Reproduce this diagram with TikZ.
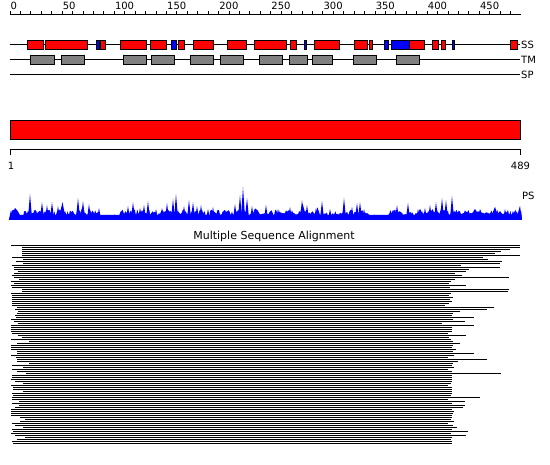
\documentclass[tikz,border=0pt]{standalone}
\usepackage{fontspec}
\setmainfont{DejaVu Sans}
\usepackage{tikz}
\usetikzlibrary{positioning}
\definecolor{ssred}{rgb}{1, 0, 0}
\definecolor{ssblue}{rgb}{0, 0, 1}
\definecolor{tmgray}{rgb}{0.5, 0.5, 0.5}
\definecolor{psblue}{rgb}{0, 0, 1}

\tikzset{
    track/.style={line width=1pt},
    helix/.style={fill=ssred, draw=black, line width=1pt},
    strand/.style={fill=ssblue, draw=black, line width=1pt},
    tmbox/.style={fill=tmgray, draw=black, line width=1pt},
    lbl/.style={font=\fontsize{10}{12}\selectfont, inner sep=0pt},
    msaline/.style={line width=1pt},
}

\begin{document}
\begin{tikzpicture}[x=1pt, y=-1pt]
    \useasboundingbox[fill=white] (0,0) rectangle (550,465);

    \draw[track] (10,15) -- (521,15);
    \foreach \p in {0,10,...,480}
        \draw[track] ({10+1.043*\p},15) -- ({10+1.043*\p},11.5);
    \foreach \p in {0,50,...,450}
        \node[lbl, anchor=base west] (tick\p) at ({10.5+1.043*\p},9.5) {\p};

    \coordinate (ss) at (520,45);
    \coordinate (tm) at (520,60);
    \coordinate (sp) at (520,75);
    \draw[track] (10,45) -- (ss);
    \draw[track] (10,60) -- (tm);
    \draw[track] (10,75) -- (sp);
    \node[lbl, right=1pt of ss] (sslbl) {SS};
    \node[lbl, right=1pt of tm] (tmlbl) {TM};
    \node[lbl, right=1pt of sp] (splbl) {SP};

    \foreach \a/\b in {27/43, 45/87, 100/105, 120/146, 150/166, 178/184, 193/213, 227/246,
                       254/286, 290/296, 314/339, 354/367, 369/372, 409/424, 432/438, 441/445, 510/517}
        \draw[helix] (\a,40.5) rectangle (\b,50);
    \foreach \a/\b in {96/99, 171/176, 304/306, 384/388, 391/409, 452/454}
        \draw[strand] (\a,40.5) rectangle (\b,50);
    \foreach \a/\b in {30/54, 61/84, 123/146, 151/174, 190/213, 220/243, 259/282,
                       289/307, 312/332, 353/376, 396/419}
        \draw[tmbox] (\a,55.5) rectangle (\b,65);

    \draw[helix] (10,120.5) rectangle (520,140);
    \coordinate (rstart) at (10,150);
    \coordinate (rend) at (520,150);
    \draw[track] ([yshift=-5pt]rstart) -- (rstart) -- (rend) -- ([yshift=-5pt]rend);
    \node[lbl] (first) at (11,165.5) {1};
    \node[lbl] (last) at (520.5,165.5) {489};

    \pgfmathsetseed{7}
    \fill[psblue] (10,220) \foreach \i [evaluate=\i as \x using 10+1.2*\i] in {0,...,426} {
        -- (\x,{216.5-ifthenelse(or(and(\x>98,\x<120),and(\x>368,\x<388)),2,7)*rnd})
    } -- (522,220) -- cycle;
    \pgfmathsetseed{11}
    \fill[psblue] (10,220) \foreach \i [evaluate=\i as \x using 10+2.5*\i] in {0,...,204} {
        -- (\x,{215-ifthenelse(or(and(\x>98,\x<120),and(\x>368,\x<388)),0,14)*rnd*rnd*rnd})
    } -- (522,220) -- cycle;
    \foreach \x/\y in {11/210, 30/194, 42/202, 47/205, 52/202, 58/206, 78/198, 83/201, 89/204,
                       99/208, 122/210, 128/206, 133/202, 140/208, 144/205, 148/201, 156/209,
                       162/208, 167/203, 173/199, 176/194, 184/206, 189/200, 193/202, 197/206,
                       201/205, 208/209, 213/207, 226/210, 235/204, 240/195, 243/187, 247/198,
                       252/206, 266/205, 277/209, 290/207, 302/200, 307/205, 316/208, 322/201,
                       330/209, 344/198, 352/207, 357/203, 360/202, 364/209, 397/205, 408/203,
                       418/209, 425/208, 430/205, 436/202, 442/198, 446/200, 452/196, 465/210,
                       480/209, 494/211, 505/209, 518/212}
        \fill[psblue] ({\x-2.2},220) -- (\x,\y) -- ({\x+2.2},220) -- cycle;
    \coordinate (psend) at (522,196);
    \node[lbl, right=0pt of psend] (pslbl) {PS};

    \node[lbl, font=\fontsize{11}{13}\selectfont] (msa) at (274,236) {Multiple Sequence Alignment};

    \foreach \s/\e [count=\k from 0] in {
        11/520, 22/520, 22/510, 22/501, 22/495, 22/520, 12/483, 23/488, 16/502, 23/500,
        12/461, 14/500, 14/469, 18/466, 14/455, 12/462, 14/509, 19/455, 11/451, 14/449,
        11/466, 12/450, 22/509, 22/508, 11/451, 12/449, 12/453, 12/450, 12/452, 12/449,
        12/445, 17/494, 15/487, 18/460, 17/453, 15/452, 16/474, 11/453, 14/465, 18/442,
        11/474, 11/452, 11/452, 11/452, 12/448, 18/466, 22/449, 11/451, 29/453, 17/460,
        11/453, 11/452, 11/456, 17/453, 17/474, 11/454, 16/448, 17/487, 17/458, 29/453,
        12/452, 23/454, 12/448, 17/452, 26/501, 12/452, 12/452, 11/452, 15/452, 23/451,
        11/448, 13/452, 13/452, 23/452, 12/452, 13/451, 12/480, 12/448, 19/465, 12/452,
        19/465, 15/463, 11/452, 11/454, 11/453, 11/452, 20/452, 25/451, 20/454, 12/448,
        15/453, 23/457, 12/452, 13/468, 11/451, 15/466, 25/452, 17/451, 12/452, 13/452}
        \draw[msaline] (\s,{245.5+2*\k}) -- (\e,{245.5+2*\k});
\end{tikzpicture}
\end{document}
